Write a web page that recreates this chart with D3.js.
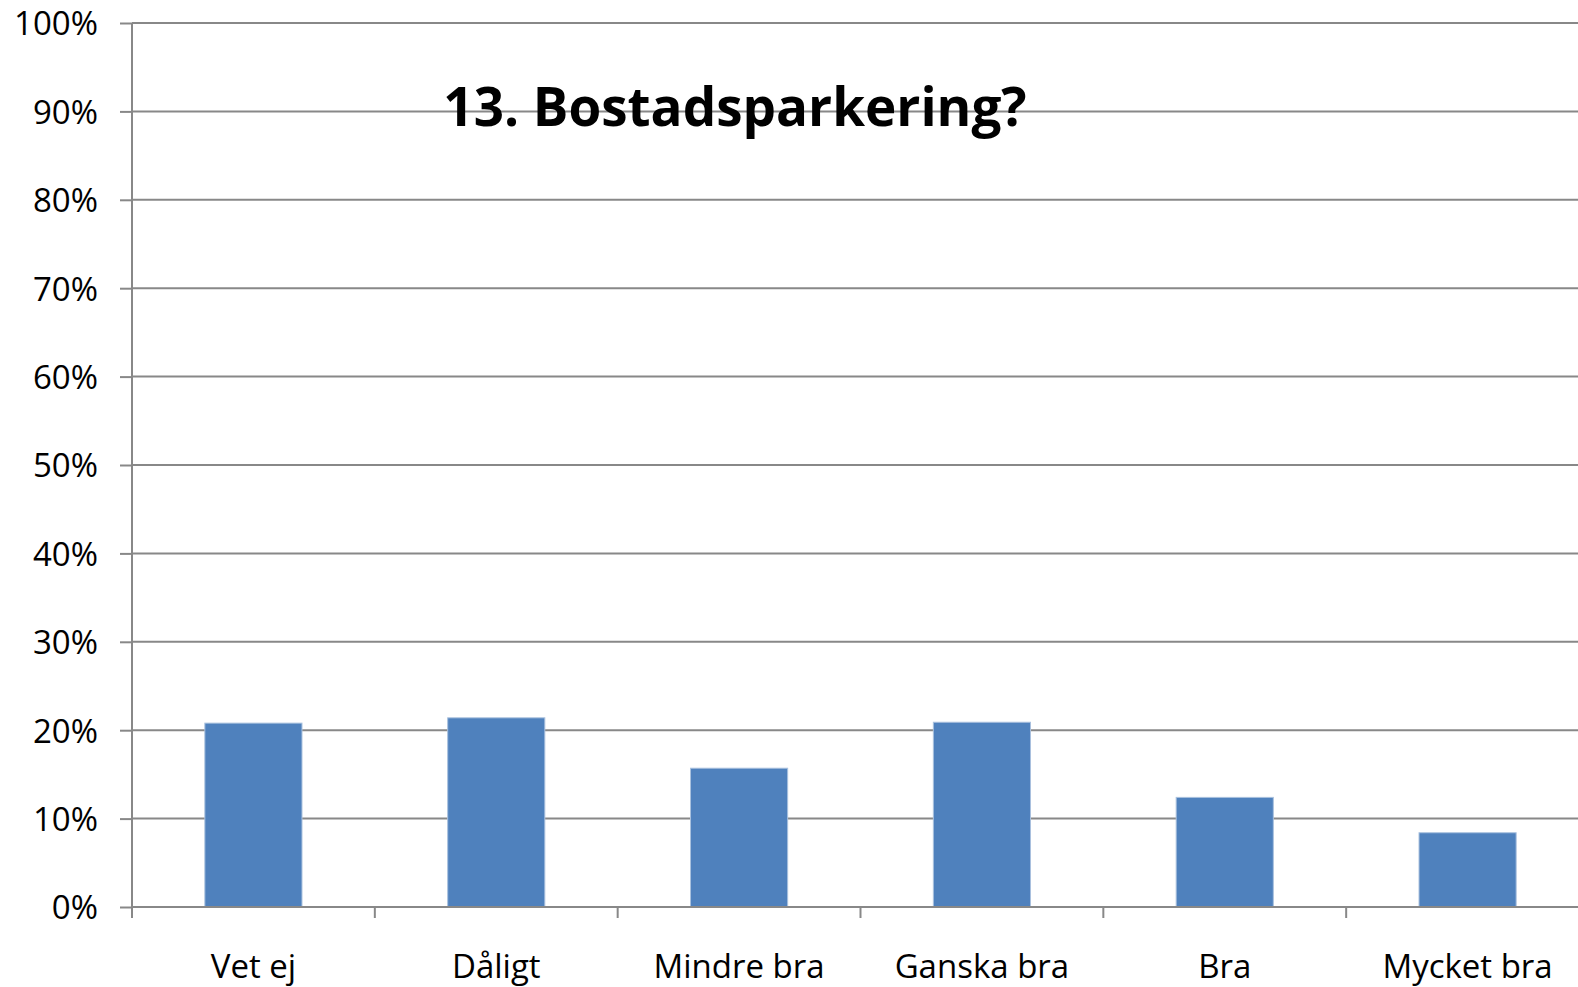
<!DOCTYPE html>
<html>
<head>
<meta charset="utf-8">
<script src="https://cdn.jsdelivr.net/npm/d3@7"></script>
<style>
  body { margin: 0; background: #fff; }
  svg { display: block; font-family: "Open Sans", "Noto Sans", sans-serif; }
</style>
</head>
<body>
<div id="chart"></div>
<script>
const categories = ['Vet ej', 'Dåligt', 'Mindre bra', 'Ganska bra', 'Bra', 'Mycket bra'];
const values = [20.8, 21.4, 15.7, 20.9, 12.4, 8.4];
const yTicks = [0, 10, 20, 30, 40, 50, 60, 70, 80, 90, 100];
const title = '13. Bostadsparkering?';

const width = 1578, height = 987;
const plotLeft = 132, plotRight = 1589, plotTop = 23, plotBottom = 907;
const gridColor = '#888888';
const barColor = '#4f81bd';

const svg = d3.select('#chart').append('svg')
  .attr('width', width).attr('height', height);

const x = d3.scaleBand().domain(categories).range([plotLeft, plotRight])
  .paddingInner(0.6).paddingOuter(0.3);
const y = d3.scaleLinear().domain([0, 100]).range([plotBottom, plotTop]);

// gridlines + y ticks
const gy = svg.append('g').attr('transform', `translate(${plotLeft},0)`)
  .call(d3.axisLeft(y).tickValues(yTicks).tickSize(12).tickFormat(d => d + '%'));
gy.attr('font-family', null).attr('font-size', null);
gy.select('.domain').remove();
gy.selectAll('line').attr('stroke', gridColor).attr('stroke-width', 2);
gy.selectAll('text').attr('fill', '#000').style('font-size', '33px')
  .attr('x', -34).attr('dy', '0.36em');

svg.append('g').selectAll('line').data(yTicks).join('line')
  .attr('x1', plotLeft).attr('x2', plotRight)
  .attr('y1', d => y(d)).attr('y2', d => y(d))
  .attr('stroke', gridColor).attr('stroke-width', 2);

// bars
svg.append('g').selectAll('rect').data(categories).join('rect')
  .attr('x', d => x(d))
  .attr('width', x.bandwidth())
  .attr('y', (d, i) => y(values[i]))
  .attr('height', (d, i) => y(0) - y(values[i]))
  .attr('fill', barColor)
  .attr('stroke', '#a9c1de').attr('stroke-width', 1);

// axis lines
svg.append('line').attr('x1', plotLeft).attr('x2', plotLeft).attr('y1', plotTop).attr('y2', plotBottom + 11)
  .attr('stroke', gridColor).attr('stroke-width', 2);
svg.append('line').attr('x1', plotLeft).attr('x2', plotRight).attr('y1', plotBottom).attr('y2', plotBottom)
  .attr('stroke', gridColor).attr('stroke-width', 2);

// category boundary ticks
const bounds = d3.range(categories.length + 1).map(i => plotLeft + i * x.step());
svg.append('g').selectAll('line').data(bounds).join('line')
  .attr('x1', d => d).attr('x2', d => d)
  .attr('y1', plotBottom).attr('y2', plotBottom + 11)
  .attr('stroke', gridColor).attr('stroke-width', 2);

// category labels
svg.append('g').selectAll('text').data(categories).join('text')
  .attr('x', d => x(d) + x.bandwidth() / 2)
  .attr('y', 978)
  .attr('text-anchor', 'middle')
  .style('font-size', '33px')
  .attr('fill', '#000')
  .text(d => d);

// title
svg.append('text')
  .attr('x', 735).attr('y', 126)
  .attr('text-anchor', 'middle')
  .style('font-size', '53px').style('font-weight', 'bold')
  .attr('fill', '#000')
  .text(title);
</script>
</body>
</html>
